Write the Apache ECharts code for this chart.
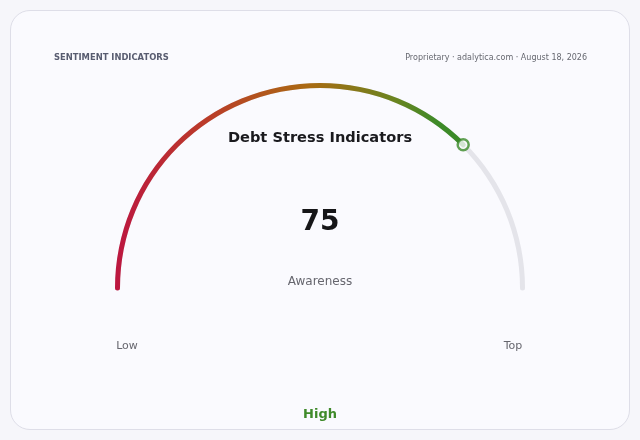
<!DOCTYPE html>
<html>
<head>
<meta charset="utf-8">
<script src="https://cdn.jsdelivr.net/npm/echarts@6/dist/echarts.min.js"></script>
<style>
  html, body { margin: 0; padding: 0; background: #f6f6fa; }
  #card {
    position: absolute; left: 10px; top: 10px; width: 618px; height: 418px;
    background: #fafafe; border: 1px solid #dedee8; border-radius: 20px;
  }
  #chart { position: absolute; left: 0; top: 0; width: 640px; height: 440px; }
</style>
</head>
<body>
<div id="card"></div>
<div id="chart"></div>
<script>
// gauge data
var gaugeName = 'Awareness';
var gaugeValue = 75;
var gaugeMin = 0;
var gaugeMax = 100;
var endLabels = ['Low', 'Top'];
var bandLabel = 'High';
var chartTitle = 'Debt Stress Indicators';
var headerLeft = 'SENTIMENT INDICATORS';
var headerRight = 'Proprietary · adalytica.com · August 18, 2026';

var font = 'DejaVu Sans, sans-serif';
var myChart = echarts.init(document.getElementById('chart'));

var option = {
    animation: false,
    title: [
        { text: headerLeft, left: 54, top: 54, padding: 0,
          textStyle: { fontSize: 8.4, fontWeight: 'bold', color: '#585c70', fontFamily: font } },
        { text: headerRight, right: 53, top: 54, padding: 0,
          textStyle: { fontSize: 8, fontWeight: 'normal', color: '#666870', fontFamily: font } },
        { text: chartTitle, left: 320, textAlign: 'center', top: 131, padding: 0,
          textStyle: { fontSize: 14.6, fontWeight: 'bold', color: '#1a1a1e', fontFamily: font } },
        { text: endLabels[0], left: 127, textAlign: 'center', top: 340.5, padding: 0,
          textStyle: { fontSize: 11, fontWeight: 'normal', color: '#66666e', fontFamily: font } },
        { text: endLabels[1], left: 513, textAlign: 'center', top: 340.5, padding: 0,
          textStyle: { fontSize: 11, fontWeight: 'normal', color: '#66666e', fontFamily: font } },
        { text: bandLabel, left: 320, textAlign: 'center', top: 408.5, padding: 0,
          textStyle: { fontSize: 13, fontWeight: 'bold', color: '#3f8a2a', fontFamily: font } }
    ],
    polar: { center: [320, 288], radius: 202.5 },
    angleAxis: { type: 'value', min: gaugeMin, max: gaugeMax * 2, startAngle: 180, clockwise: true, show: false },
    radiusAxis: { type: 'value', min: 0, max: 1, show: false },
    series: [
        {
            type: 'gauge',
            center: [320, 288],
            radius: 205,
            startAngle: 180,
            endAngle: 0,
            min: gaugeMin,
            max: gaugeMax,
            axisLine: { roundCap: true, lineStyle: { width: 5, color: [[1, '#e4e4ea']] } },
            progress: {
                show: true, width: 5, roundCap: true,
                itemStyle: {
                    color: {
                        type: 'linear', x: 0, y: 0, x2: 1, y2: 0,
                        colorStops: [
                            { offset: 0, color: '#bc1640' },
                            { offset: 0.25, color: '#bb3a2a' },
                            { offset: 0.55, color: '#aa6a12' },
                            { offset: 0.8, color: '#6a8420' },
                            { offset: 0.92, color: '#3d8a28' },
                            { offset: 1, color: '#3a8a28' }
                        ]
                    }
                }
            },
            pointer: { show: false },
            axisTick: { show: false },
            splitLine: { show: false },
            axisLabel: { show: false },
            anchor: { show: false },
            title: {
                offsetCenter: [0, -6],
                fontSize: 12, color: '#66666e', fontFamily: font
            },
            detail: {
                offsetCenter: [0, -65],
                fontSize: 28, fontWeight: 'bold', color: '#161618', fontFamily: font,
                formatter: '{value}'
            },
            data: [{ value: gaugeValue, name: gaugeName }]
        },
        {
            type: 'scatter',
            coordinateSystem: 'polar',
            symbol: 'circle',
            symbolSize: 11,
            itemStyle: { color: '#fafafe', borderColor: '#3a8a28', borderWidth: 2.5 },
            data: [[1, gaugeValue]],
            z: 5
        }
    ]
};
myChart.setOption(option);
</script>
</body>
</html>
